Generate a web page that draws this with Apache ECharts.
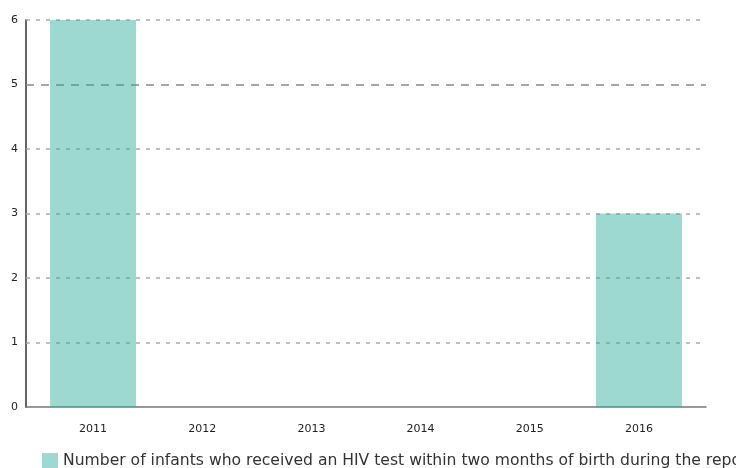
<!DOCTYPE html>
<html><head><meta charset="utf-8">
<script src="https://cdn.jsdelivr.net/npm/echarts@6/dist/echarts.min.js"></script>
<style>html,body{margin:0;padding:0;background:#fff}#c{width:736px;height:468px}</style>
</head><body><div id="c"></div>
<script>
const years = [2011, 2012, 2013, 2014, 2015, 2016];
const values = [6, 0, 0, 0, 0, 3];
const yTicks = [0, 1, 2, 3, 4, 5, 6];
const targetValue = 5;
const seriesName = 'Number of infants who received an HIV test within two months of birth during the reporting period';

const chart = echarts.init(document.getElementById('c'), null, {renderer: 'canvas'});
const font = 'DejaVu Sans';
const gridStyle = {color: '#aaa', type: [4, 6], width: 1.5};
const targetStyle = {color: '#888', type: [8, 7], width: 1.5};
const lines = yTicks.filter(v => v > 0).map(v => ({
  yAxis: v,
  lineStyle: v === targetValue ? targetStyle : gridStyle
}));
chart.setOption({
  animation: false,
  textStyle: {fontFamily: font},
  grid: {left: 26, right: 30, top: 20, bottom: 61, containLabel: false},
  legend: {
    left: 37, top: 448, icon: 'rect', itemWidth: 16, itemHeight: 16, itemGap: 10,
    textStyle: {fontFamily: font, fontSize: 15.6, color: '#333'},
    data: [seriesName]
  },
  xAxis: {
    type: 'value', min: 2010.386, max: 2016.614,
    axisLine: {show: true, lineStyle: {color: '#777', width: 1.5}},
    axisTick: {show: false},
    splitLine: {show: false},
    axisLabel: {customValues: years, margin: 17, fontSize: 11, color: '#222', fontFamily: font, formatter: v => String(v)}
  },
  yAxis: {
    type: 'value', min: yTicks[0], max: yTicks[yTicks.length - 1], interval: 1,
    axisLine: {show: true, lineStyle: {color: '#666', width: 2}},
    axisTick: {show: false},
    axisLabel: {margin: 8, fontSize: 11, color: '#222', fontFamily: font},
    splitLine: {show: false}
  },
  series: [{
    name: seriesName,
    type: 'bar',
    barWidth: 86,
    itemStyle: {color: 'rgba(40,170,152,0.45)'},
    data: years.map((y, i) => [y, values[i]]),
    z: 3,
    markLine: {
      silent: true, symbol: 'none', label: {show: false}, z: 2,
      data: lines
    }
  }]
});
</script></body></html>
